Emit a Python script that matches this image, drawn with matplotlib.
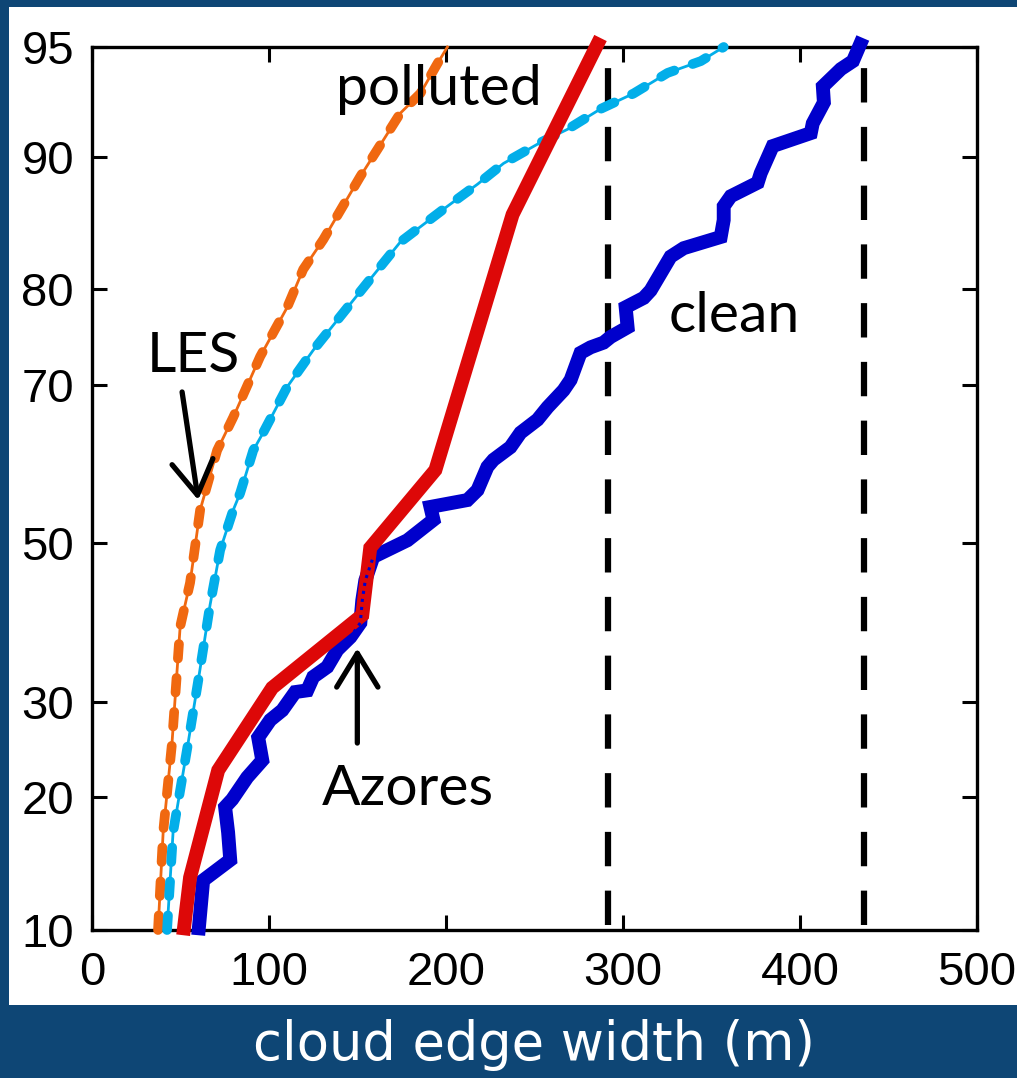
import numpy as np
import matplotlib
matplotlib.use("Agg")
import matplotlib.pyplot as plt
from statistics import NormalDist

# cloud edge width (m) vs cumulative percentile
red_w = [51.5, 55.4, 71.3, 101.8, 152.7, 157.2, 194.0, 237.6, 287.3]
red_p = [9.7, 13.4, 22.6, 31.6, 40.6, 49.4, 59.6, 86.2, 95.3]

clean_w = [60.0, 62.8, 78.1, 76.9, 75.2, 79.2, 87.7, 96.2, 93.9, 100.7,
           107.5, 114.8, 121.6, 125.0, 132.9, 138.6, 146.0, 151.6, 152.7, 154.4,
           158.9, 178.2, 192.9, 191.2, 212.1, 217.8, 223.4, 226.8, 236.4, 242.1,
           251.7, 257.4, 266.4, 270.4, 276.0, 281.7, 289.0, 293.0, 302.6, 301.5,
           311.7, 315.6, 326.9, 334.3, 355.2, 356.9, 356.9, 360.9, 376.1, 377.8,
           384.6, 406.1, 407.2, 413.5, 412.9, 423.1, 429.9, 435.5]
clean_p = [9.7, 13.2, 14.7, 16.9, 19.1, 19.8, 21.9, 23.6, 26.0, 27.9,
           29.0, 31.1, 31.3, 32.9, 34.1, 36.2, 37.8, 39.6, 42.5, 45.1,
           48.2, 50.4, 53.1, 54.8, 55.7, 57.0, 60.0, 60.9, 62.5, 64.3,
           65.9, 67.4, 69.4, 70.6, 73.6, 74.2, 74.7, 75.3, 76.3, 78.3,
           79.2, 79.9, 82.9, 83.6, 84.5, 85.8, 86.8, 87.5, 88.4, 89.0,
           90.6, 91.3, 91.8, 92.8, 93.5, 94.2, 94.5, 95.3]

les_polluted_w = [37.3, 40.2, 45.2, 46.9, 49.8, 55.4, 61.1, 70.7, 79.8, 95.0,
                  110.3, 119.3, 130.7, 140.3, 151.6, 161.2, 174.2, 185.5, 195.1, 200.8]
les_polluted_p = [10, 16.9, 25.4, 30.2, 39.1, 44.8, 54.4, 62.1, 66.2, 73.2,
                  78.3, 81.8, 84.3, 86.5, 88.8, 90.4, 92.3, 93.2, 94.4, 95.0]

les_clean_w = [42.4, 45.8, 54.3, 60.5, 66.7, 72.4, 79.8, 83.7, 91.1, 96.7,
               110.3, 125.0, 140.3, 155.5, 174.2, 200.8, 217.8, 232.5, 253.4, 268.7,
               287.3, 306.0, 325.2, 344.0, 356.9]
les_clean_p = [10, 16.9, 25.4, 33.1, 41.9, 49.1, 54.4, 56.6, 62.1, 64.3,
               69.8, 73.9, 77.4, 80.6, 84.1, 86.8, 88.3, 89.6, 90.8, 91.5,
               92.5, 93.2, 94.05, 94.5, 95.0]

vlines_w = [291.3, 436.1]
yticks = [10, 20, 30, 50, 70, 80, 90, 95]
xticks = [0, 100, 200, 300, 400, 500]

ND = NormalDist()


def _fwd(p):
    p = np.asarray(p, dtype=float)
    out = np.full(p.shape, np.nan)
    ok = np.isfinite(p)
    pc = np.clip(p[ok], 1e-4, 100 - 1e-4) / 100.0
    out[ok] = [ND.inv_cdf(v) for v in pc]
    return out


def _inv(z):
    z = np.asarray(z, dtype=float)
    out = np.full(z.shape, np.nan)
    ok = np.isfinite(z)
    out[ok] = [ND.cdf(v) * 100.0 for v in z[ok]]
    return out


navy = "#0e4675"
fig = plt.figure(figsize=(10.17, 10.78), dpi=100, facecolor=navy)
fig.patches.append(plt.Rectangle((9 / 1017, 73 / 1078), 1 - 9 / 1017, (1005 - 7) / 1078,
                                 transform=fig.transFigure, facecolor="white",
                                 edgecolor="none", zorder=-5))

ax = fig.add_axes([92 / 1017, 1 - 930 / 1078, (977 - 92) / 1017, (930 - 47) / 1078])
ax.set_yscale("function", functions=(_fwd, _inv))

# LES curves: thin line with thick dashes on top
for w, p, c in [(les_polluted_w, les_polluted_p, "#f06810"),
                (les_clean_w, les_clean_p, "#02aee9")]:
    ax.plot(w, p, color=c, lw=2.0, zorder=3, clip_on=False)
    ax.plot(w, p, color=c, lw=7, dashes=(1.5, 2.0), dash_capstyle="round",
            zorder=3, clip_on=False)

ax.plot(clean_w, clean_p, color="#0000cc", lw=10, solid_joinstyle="miter",
        solid_capstyle="butt", zorder=4, clip_on=False)
ax.plot(red_w, red_p, color="#dd0808", lw=10, solid_joinstyle="miter",
        solid_capstyle="butt", zorder=5, clip_on=False)
ax.plot(clean_w[15:21], clean_p[15:21], color="#0000cc", lw=2.2, ls=":", zorder=6)

for v in vlines_w:
    ax.plot([v, v], [10.3, 94.6], color="black", lw=4.5, dashes=(5.5, 3.9),
            dash_capstyle="butt", zorder=2)

ax.set_xlim(0, 500)
ax.set_ylim(10, 95)
ax.set_xticks(xticks)
ax.set_yticks(yticks)
ax.minorticks_off()
ax.set_xticklabels([str(t) for t in xticks])
ax.set_yticklabels([str(t) for t in yticks])
ax.tick_params(direction="in", length=11, width=2.2, top=True, right=True,
               labelsize=34, pad=13)
ax.tick_params(axis="x", pad=15)
for lab in ax.get_xticklabels() + ax.get_yticklabels():
    lab.set_family("Liberation Sans")
for s in ax.spines.values():
    s.set_linewidth(2.4)

tfont = dict(family="Lato", fontsize=41, color="black", ha="center", va="center")
ax.text(195.7, 93.36, "polluted", **tfont)
ax.text(362.6, 77.4, "clean", **tfont)
ax.text(57.1, 73.2, "LES", **tfont)
ax.text(178.7, 20.7, "Azores", **tfont)

aprops = dict(arrowstyle="->,head_length=0.9,head_width=0.55", lw=3.8, color="black",
              mutation_scale=27, shrinkA=0, shrinkB=0)
ax.annotate("", xy=(60.0, 55.7), xytext=(50.9, 69.2), arrowprops=aprops)
ax.annotate("", xy=(149.9, 36.4), xytext=(149.9, 25.4), arrowprops=aprops)

fig.text(534 / 1017, 1 - 1045 / 1078, "cloud edge width (m)", color="white",
         fontsize=38, ha="center", va="center", family="DejaVu Sans")

fig.savefig("out.png", dpi=100, facecolor=navy)
